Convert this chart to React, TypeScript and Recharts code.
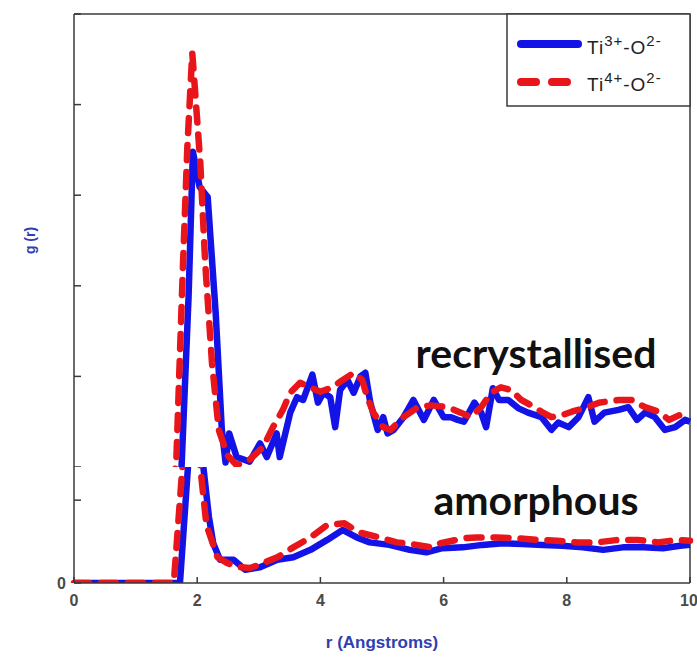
import React from "react"
import { LineChart, Line, XAxis, YAxis, ReferenceLine, Label } from "recharts"

const rTicks = [0, 2, 4, 6, 8, 10]
const topTicks = [0, 1, 2, 3, 4, 5]
const bottomTicks = [0, 1]

// recrystallised, Ti3+-O2- (blue)
const recTi3R = [0, 1.6, 1.74, 1.86, 1.93, 2.04, 2.17, 2.3, 2.4, 2.46, 2.52, 2.64, 2.85, 3.02, 3.13, 3.29, 3.34, 3.51, 3.62, 3.72, 3.87, 3.96, 4.05, 4.16, 4.24, 4.32, 4.44, 4.54, 4.65, 4.73, 4.81, 4.93, 5.02, 5.09, 5.19, 5.35, 5.51, 5.68, 5.84, 6.0, 6.12, 6.23, 6.33, 6.5, 6.61, 6.69, 6.8, 6.9, 7.05, 7.21, 7.37, 7.59, 7.75, 7.86, 8.03, 8.19, 8.35, 8.45, 8.61, 8.84, 9.0, 9.14, 9.27, 9.43, 9.59, 9.76, 9.92, 10]
const recTi3G = [-0.3, -0.3, -0.1, 1.88, 3.48, 3.09, 2.98, 1.7, 0.41, 0.05, 0.37, 0.11, 0.06, 0.26, 0.11, 0.37, 0.11, 0.6, 0.77, 0.74, 1.02, 0.71, 0.82, 0.77, 0.44, 0.85, 0.96, 0.82, 1.0, 1.04, 0.71, 0.41, 0.55, 0.37, 0.41, 0.55, 0.74, 0.52, 0.74, 0.55, 0.55, 0.52, 0.5, 0.71, 0.6, 0.44, 0.87, 0.74, 0.74, 0.65, 0.6, 0.55, 0.41, 0.49, 0.44, 0.55, 0.77, 0.5, 0.6, 0.63, 0.66, 0.52, 0.6, 0.55, 0.41, 0.44, 0.52, 0.5]

// recrystallised, Ti4+-O2- (red)
const recTi4R = [0, 1.58, 1.66, 1.77, 1.84, 1.92, 2.05, 2.13, 2.24, 2.35, 2.49, 2.64, 2.85, 3.07, 3.23, 3.39, 3.51, 3.67, 3.83, 4.0, 4.16, 4.32, 4.54, 4.68, 4.76, 4.86, 5.02, 5.14, 5.35, 5.58, 5.79, 6.07, 6.28, 6.44, 6.61, 6.77, 6.93, 7.1, 7.26, 7.42, 7.59, 7.75, 7.91, 8.08, 8.29, 8.52, 8.84, 9.05, 9.27, 9.49, 9.66, 9.82, 10]
const recTi4G = [-0.3, -0.3, 0.05, 2.25, 3.53, 4.57, 3.36, 2.25, 1.15, 0.41, 0.13, 0.02, 0.08, 0.22, 0.44, 0.63, 0.82, 0.93, 0.88, 0.83, 0.87, 0.94, 1.04, 0.96, 0.77, 0.6, 0.44, 0.41, 0.55, 0.66, 0.68, 0.66, 0.6, 0.55, 0.66, 0.82, 0.88, 0.85, 0.74, 0.68, 0.61, 0.55, 0.57, 0.61, 0.65, 0.71, 0.74, 0.74, 0.66, 0.61, 0.52, 0.57, 0.61]

// amorphous, Ti3+-O2- (blue)
const amoTi3R = [0, 1.72, 1.85, 1.95, 2.1, 2.19, 2.26, 2.37, 2.59, 2.78, 3.02, 3.3, 3.56, 3.84, 4.11, 4.36, 4.59, 4.8, 5.12, 5.45, 5.72, 5.98, 6.31, 6.63, 6.96, 7.28, 7.61, 7.93, 8.26, 8.59, 8.91, 9.24, 9.56, 9.84, 10]
const amoTi3G = [0, 0, 1.4, 2.6, 1.4, 0.8, 0.48, 0.28, 0.28, 0.16, 0.19, 0.28, 0.31, 0.4, 0.52, 0.64, 0.55, 0.49, 0.46, 0.4, 0.37, 0.42, 0.43, 0.46, 0.48, 0.47, 0.46, 0.45, 0.43, 0.4, 0.43, 0.43, 0.42, 0.45, 0.46]

// amorphous, Ti4+-O2- (red)
const amoTi4R = [0, 1.62, 1.76, 1.88, 2.05, 2.15, 2.33, 2.49, 2.7, 2.86, 3.07, 3.3, 3.56, 3.84, 4.11, 4.39, 4.63, 4.96, 5.24, 5.56, 5.79, 5.95, 6.33, 6.54, 6.86, 7.19, 7.51, 7.84, 8.17, 8.49, 8.83, 9.15, 9.48, 9.8, 10]
const amoTi4G = [0, 0, 1.4, 2.8, 1.4, 0.7, 0.31, 0.24, 0.19, 0.18, 0.24, 0.31, 0.43, 0.55, 0.7, 0.72, 0.61, 0.55, 0.49, 0.46, 0.43, 0.48, 0.54, 0.55, 0.55, 0.54, 0.52, 0.51, 0.49, 0.49, 0.52, 0.52, 0.49, 0.52, 0.51]

const zip = (r: number[], g: number[]) => r.map((x, i) => ({ r: x, g: g[i] }))

const BLUE = "#1313e8"
const RED = "#e8151b"
const AXIS = "#3a3a3a"
const LABEL_BLUE = "#2f3fb0"
const FONT = "'Liberation Sans', Arial, sans-serif"
const BIG = "Lato, 'Open Sans', sans-serif"

const tickStyle = { fill: "#4a4a4a", fontSize: 16, fontWeight: "bold", fontFamily: FONT }

export default function App() {
  const axisLine = { stroke: AXIS, strokeWidth: 1.5 }
  return (
    <div style={{ position: "absolute", left: 0, top: 0, width: 697, height: 657, background: "#fff" }}>
      <div style={{ position: "absolute", left: 0, top: 0 }}>
        <LineChart width={697} height={467} margin={{ top: 14, right: 7, left: 0, bottom: 0 }}>
          <XAxis type="number" dataKey="r" domain={[0, 10]} ticks={rTicks} hide />
          <YAxis
            type="number"
            domain={[0, 5]}
            ticks={topTicks}
            allowDataOverflow
            width={74}
            tickSize={-7}
            tickMargin={15}
            axisLine={axisLine}
            tickLine={axisLine}
            tickFormatter={() => ""}
            tick={tickStyle}
          >
            <Label
              content={(props: any) => {
                const vb = props.viewBox || { x: 0, y: 14, width: 74, height: 453 }
                const cx = vb.x + vb.width / 2 - 7
                const cy = vb.y + vb.height / 2
                return (
                  <text
                    x={cx}
                    y={cy}
                    transform={`rotate(-90 ${cx} ${cy})`}
                    textAnchor="middle"
                    dominantBaseline="central"
                    fill={LABEL_BLUE}
                    fontFamily={FONT}
                    fontWeight="bold"
                    fontSize={14}
                  >
                    g (r)
                  </text>
                )
              }}
            />
          </YAxis>
          <ReferenceLine y={5} stroke={AXIS} strokeWidth={1.5} />
          <ReferenceLine x={10} stroke={AXIS} strokeWidth={1.5} />
          <Line
            data={zip(recTi3R, recTi3G)}
            dataKey="g"
            stroke={BLUE}
            strokeWidth={6.5}
            dot={false}
            strokeLinejoin="round"
            isAnimationActive={false}
          />
          <Line
            data={zip(recTi4R, recTi4G)}
            dataKey="g"
            stroke={RED}
            strokeWidth={6.5}
            strokeDasharray="15 12"
            strokeLinecap="round"
            dot={false}
            strokeLinejoin="round"
            isAnimationActive={false}
          />
        </LineChart>
      </div>
      <div style={{ position: "absolute", left: 0, top: 467 }}>
        <LineChart width={697} height={190} margin={{ top: 0, right: 7, left: 0, bottom: 24 }}>
          <XAxis
            type="number"
            dataKey="r"
            domain={[0, 10]}
            ticks={rTicks}
            height={50}
            tickSize={-6}
            tickMargin={18}
            axisLine={axisLine}
            tickLine={axisLine}
            tick={tickStyle}
          >
            <Label
              value="r (Angstroms)"
              position="bottom"
              offset={3}
              fill={LABEL_BLUE}
              fontFamily={FONT}
              fontWeight="bold"
              fontSize={17}
            />
          </XAxis>
          <YAxis
            type="number"
            domain={[0, 1.4]}
            ticks={bottomTicks}
            allowDataOverflow
            width={74}
            tickSize={-7}
            tickMargin={15}
            axisLine={axisLine}
            tickLine={axisLine}
            tickFormatter={(v: number) => (v === 0 ? "0" : "")}
            tick={tickStyle}
          />
          <ReferenceLine x={10} stroke={AXIS} strokeWidth={1.5} />
          <Line
            data={zip(amoTi3R, amoTi3G)}
            dataKey="g"
            stroke={BLUE}
            strokeWidth={6.5}
            dot={false}
            strokeLinejoin="round"
            isAnimationActive={false}
          />
          <Line
            data={zip(amoTi4R, amoTi4G)}
            dataKey="g"
            stroke={RED}
            strokeWidth={6.5}
            strokeDasharray="15 12"
            strokeLinecap="round"
            dot={false}
            strokeLinejoin="round"
            isAnimationActive={false}
          />
        </LineChart>
      </div>
      <svg width={697} height={657} style={{ position: "absolute", left: 0, top: 0, pointerEvents: "none" }}>
        <text x={536} y={368} textAnchor="middle" fontFamily={BIG} fontWeight="bold" fontSize={41} fill="#111">
          recrystallised
        </text>
        <text x={536} y={515} textAnchor="middle" fontFamily={BIG} fontWeight="bold" fontSize={41} fill="#111">
          amorphous
        </text>
        <rect x={507} y={14} width={183} height={92} fill="#fff" stroke={AXIS} strokeWidth={1.5} />
        <line x1={521} x2={578} y1={44} y2={44} stroke={BLUE} strokeWidth={8} strokeLinecap="round" />
        <line x1={521} x2={567} y1={82} y2={82} stroke={RED} strokeWidth={8} strokeLinecap="round" strokeDasharray="15 16" />
        <text x={587} y={54} fontFamily={FONT} fontSize={19} letterSpacing={1} fill="#222">
          Ti<tspan dy={-8} fontSize={15}>3+</tspan>
          <tspan dy={8}>-O</tspan>
          <tspan dy={-8} fontSize={15}>2-</tspan>
        </text>
        <text x={587} y={91} fontFamily={FONT} fontSize={19} letterSpacing={1} fill="#222">
          Ti<tspan dy={-8} fontSize={15}>4+</tspan>
          <tspan dy={8}>-O</tspan>
          <tspan dy={-8} fontSize={15}>2-</tspan>
        </text>
      </svg>
    </div>
  )
}
